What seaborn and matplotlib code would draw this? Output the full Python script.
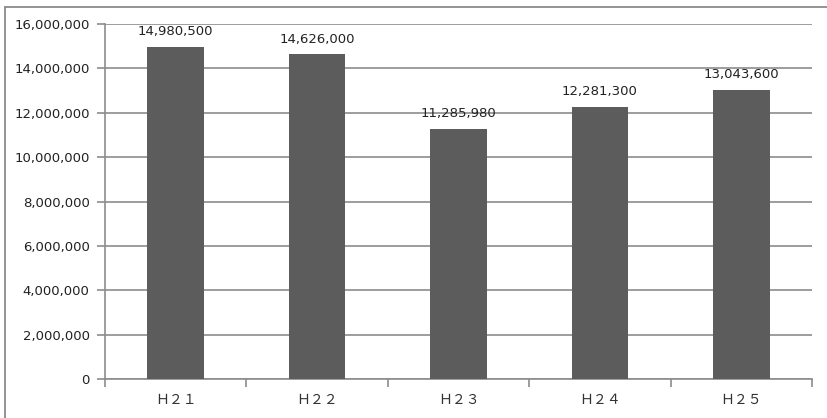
import matplotlib
matplotlib.use("Agg")
import matplotlib.pyplot as plt
from matplotlib.lines import Line2D
from matplotlib.ticker import FuncFormatter, FixedLocator
import seaborn as sns
import pandas as pd

# Yearly totals (Heisei 21-25)
years = ["Ｈ２１", "Ｈ２２", "Ｈ２３", "Ｈ２４", "Ｈ２５"]
totals = [14980500, 14626000, 11285980, 12281300, 13043600]
y_ticks = [0, 2000000, 4000000, 6000000, 8000000, 10000000, 12000000, 14000000, 16000000]

df = pd.DataFrame({"year": years, "total": totals})

sns.set_theme(style="white")
plt.rcParams["font.family"] = ["DejaVu Sans", "Noto Sans CJK JP"]

fig = plt.figure(figsize=(8.28, 4.18), dpi=100)
ax = fig.add_axes([105 / 828, 1 - 379 / 418, (812 - 105) / 828, (379 - 24) / 418])

bar_color = "#5c5c5c"
grid_color = "#8c8c8c"

sns.barplot(data=df, x="year", y="total", color=bar_color, width=0.4,
            saturation=1, linewidth=0, edgecolor=bar_color, ax=ax, zorder=3)

ax.set_ylim(0, 16000000)
ax.set_xlim(-0.5, len(years) - 0.5)
ax.set_yticks(y_ticks)
ax.yaxis.set_major_formatter(FuncFormatter(lambda v, p: f"{int(v):,}"))
ax.grid(axis="y", color=grid_color, linewidth=1.2, zorder=0)
ax.grid(axis="x", visible=False)

for side in ["top", "right"]:
    ax.spines[side].set_visible(False)
for side in ["left", "bottom"]:
    ax.spines[side].set_color(grid_color)
    ax.spines[side].set_linewidth(1.2)

# category labels at bar centres, tick marks on the category boundaries
ax.set_xticks(range(len(years)))
ax.set_xticklabels(years, fontfamily="Noto Sans CJK JP", fontsize=10,
                   color="#333333")
ax.tick_params(axis="x", which="major", length=0, pad=10)
ax.xaxis.set_minor_locator(FixedLocator([i - 0.5 for i in range(len(years) + 1)]))
ax.tick_params(axis="x", which="minor", bottom=True, length=6, width=1.2,
               color=grid_color)
ax.tick_params(axis="y", left=True, length=6, width=1.2, color=grid_color,
               pad=5, labelsize=9.5, labelcolor="#222222")

ax.set_xlabel("")
ax.set_ylabel("")

# value labels above each bar
for i, v in enumerate(totals):
    ax.annotate(f"{v:,}", xy=(i, v), xytext=(0, 6), textcoords="offset points",
                ha="center", va="bottom", fontsize=9.5, color="#222222")

# chart-area frame (top and left edges)
fig.add_artist(Line2D([5 / 828, 1], [1 - 7 / 418, 1 - 7 / 418],
                      transform=fig.transFigure, color="#8a8a8a", linewidth=1.3))
fig.add_artist(Line2D([5 / 828, 5 / 828], [0, 1 - 7 / 418],
                      transform=fig.transFigure, color="#8a8a8a", linewidth=1.3))

fig.savefig("out.png", dpi=100)
